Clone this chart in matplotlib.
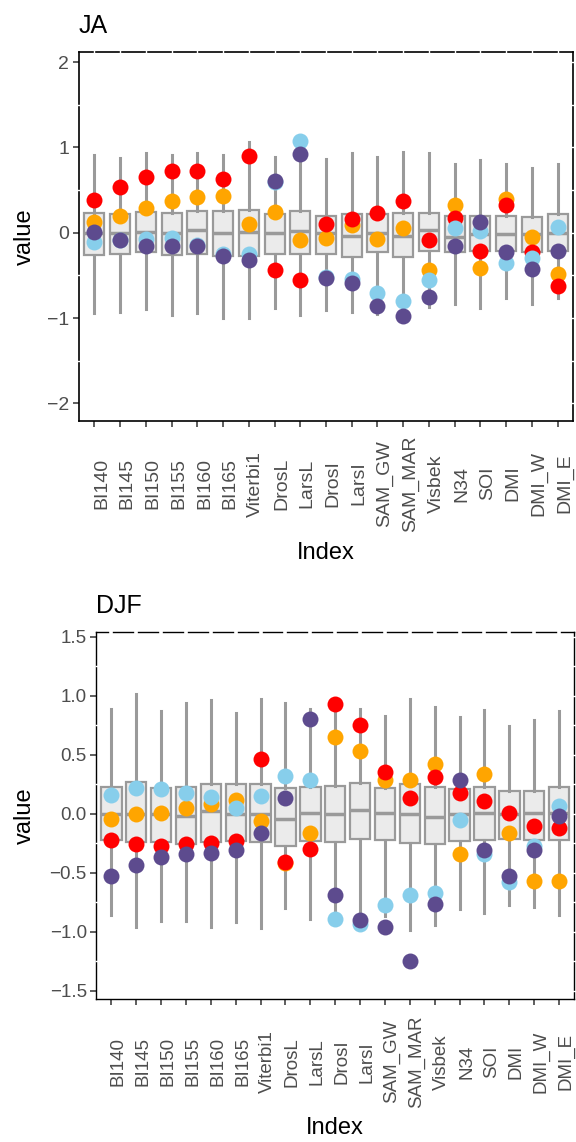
import numpy as np
import matplotlib
matplotlib.use("Agg")
from matplotlib import pyplot as plt
from matplotlib.transforms import ScaledTranslation

plt.rcParams['font.family'] = ['Liberation Sans', 'DejaVu Sans']

indices = ["BI140", "BI145", "BI150", "BI155", "BI160", "BI165", "Viterbi1",
           "DrosL", "LarsL", "DrosI", "LarsI", "SAM_GW", "SAM_MAR", "Visbek",
           "N34", "SOI", "DMI", "DMI_W", "DMI_E"]

# JA: box summaries
ja_wlo = [-0.94, -0.93, -0.89, -0.97, -0.94, -1.0, -1.0, -0.88, -0.96, -0.90,
          -0.93, -0.95, -0.99, -0.87, -0.83, -0.88, -0.76, -0.83, -0.77]
ja_q1 = [-0.26, -0.25, -0.23, -0.26, -0.25, -0.27, -0.27, -0.25, -0.25, -0.25,
         -0.29, -0.23, -0.29, -0.22, -0.23, -0.22, -0.22, -0.23, -0.21]
ja_med = [0.0, 0.0, 0.01, 0.0, 0.03, 0.0, 0.01, 0.0, 0.02, 0.0,
          -0.04, 0.0, -0.04, 0.03, -0.05, -0.02, -0.01, -0.01, 0.0]
ja_q3 = [0.23, 0.22, 0.24, 0.23, 0.25, 0.25, 0.27, 0.22, 0.25, 0.20,
         0.22, 0.22, 0.23, 0.23, 0.20, 0.20, 0.20, 0.18, 0.22]
ja_whi = [0.91, 0.88, 0.93, 0.91, 0.93, 0.91, 1.06, 0.89, 1.02, 0.86,
          0.94, 0.89, 0.95, 0.93, 0.80, 0.85, 0.81, 0.76, 0.81]
# JA: points
ja_red = [0.38, 0.54, 0.65, 0.72, 0.72, 0.63, 0.90, -0.44, -0.55, 0.10,
          0.16, 0.23, 0.37, -0.08, 0.17, -0.22, 0.32, -0.23, -0.63]
ja_orange = [0.13, 0.20, 0.29, 0.37, 0.42, 0.43, 0.10, 0.24, -0.08, -0.06,
             0.09, -0.07, 0.05, -0.44, 0.33, -0.41, 0.39, -0.05, -0.48]
ja_blue = [-0.11, -0.08, -0.07, -0.06, -0.14, -0.25, -0.25, 0.60, 1.07, -0.52,
           -0.54, -0.71, -0.80, -0.55, 0.05, 0.02, -0.36, -0.30, 0.07]
ja_purple = [0.01, -0.09, -0.15, -0.15, -0.16, -0.27, -0.32, 0.61, 0.92, -0.53,
             -0.59, -0.86, -0.98, -0.75, -0.15, 0.12, -0.23, -0.43, -0.22]

# DJF: box summaries
djf_wlo = [-0.86, -0.955, -0.91, -0.91, -0.955, -0.92, -0.97, -0.80, -0.89, -0.92,
           -0.90, -0.865, -0.98, -0.94, -0.81, -0.84, -0.77, -0.79, -0.86]
djf_q1 = [-0.22, -0.24, -0.24, -0.255, -0.24, -0.23, -0.24, -0.27, -0.23, -0.24,
          -0.21, -0.22, -0.25, -0.255, -0.23, -0.22, -0.21, -0.22, -0.22]
djf_med = [0.0, 0.0, 0.0, -0.02, 0.02, 0.0, 0.0, -0.04, 0.01, 0.0,
           0.03, 0.01, 0.0, -0.03, 0.0, 0.01, 0.0, 0.01, 0.01]
djf_q3 = [0.23, 0.27, 0.22, 0.23, 0.25, 0.25, 0.25, 0.22, 0.23, 0.235,
          0.26, 0.22, 0.25, 0.23, 0.21, 0.23, 0.19, 0.19, 0.23]
djf_whi = [0.89, 1.01, 0.87, 0.94, 0.96, 0.85, 0.97, 0.94, 0.89, 0.94,
           0.89, 0.83, 0.97, 0.90, 0.82, 0.88, 0.74, 0.79, 0.87]
# DJF: points
djf_red = [-0.22, -0.26, -0.27, -0.26, -0.25, -0.23, 0.46, -0.41, -0.30, 0.93,
           0.75, 0.35, 0.13, 0.31, 0.18, 0.11, 0.01, -0.10, -0.12]
djf_orange = [-0.04, 0.0, 0.01, 0.05, 0.08, 0.12, -0.06, -0.42, -0.16, 0.65,
              0.53, 0.29, 0.29, 0.42, -0.34, 0.34, -0.16, -0.57, -0.57]
djf_blue = [0.16, 0.22, 0.21, 0.18, 0.14, 0.05, 0.15, 0.32, 0.29, -0.89,
            -0.93, -0.77, -0.69, -0.67, -0.05, -0.34, -0.58, -0.27, 0.07]
djf_purple = [-0.53, -0.43, -0.37, -0.34, -0.33, -0.31, -0.16, 0.13, 0.80, -0.69,
              -0.90, -0.96, -1.25, -0.76, 0.29, -0.31, -0.53, -0.31, -0.02]

colors = {'orange': '#FFA500', 'red': '#FF0000', 'blue': '#87CEEB', 'purple': '#5D4B8E'}


def panel(ax, title, wlo, q1, med, q3, whi, pts, ylim, yticks, step, boxw,
          tick_fs, spine_w, gap_w, ylab_x, xlab_y):
    x = np.arange(len(indices))
    stats = [dict(whislo=a, q1=b, med=c, q3=d, whishi=e, fliers=[])
             for a, b, c, d, e in zip(wlo, q1, med, q3, whi)]
    ax.bxp(stats, positions=x, widths=boxw, patch_artist=True, showcaps=False,
           showfliers=False, manage_ticks=False,
           boxprops=dict(facecolor='#EBEBEB', edgecolor='#9A9A9A', linewidth=1.6),
           whiskerprops=dict(color='#9A9A9A', linewidth=2.2),
           medianprops=dict(color='#9A9A9A', linewidth=2.5))
    for key in ['orange', 'red', 'blue', 'purple']:
        ax.scatter(x, pts[key], s=132, color=colors[key], linewidths=0, zorder=3)

    ax.set_xlim(-0.6, len(indices) - 0.4)
    ax.set_ylim(*ylim)
    ax.set_yticks(yticks)
    ax.set_xticks(x)
    ax.set_xticklabels(indices, rotation=90, ha='center', va='center')
    ax.tick_params(axis='x', length=4, width=1.1, color='#333333', pad=41,
                   labelsize=tick_fs, labelcolor='#4D4D4D')
    ax.tick_params(axis='y', length=4, width=1.1, color='#333333', pad=3,
                   labelsize=tick_fs, labelcolor='#4D4D4D')
    off = ScaledTranslation(7 / 100, 0, ax.figure.dpi_scale_trans)
    for lab in ax.get_xticklabels():
        lab.set_transform(lab.get_transform() + off)

    for s in ax.spines.values():
        s.set_linewidth(spine_w)
        s.set_color('black')

    # white grid stubs breaking the panel border
    fine = np.arange(ylim[0] // step * step, ylim[1] + 1e-9, step)
    fine = fine[(fine > ylim[0]) & (fine < ylim[1])]
    ax.vlines(x, 0.994, 1.006, transform=ax.get_xaxis_transform(),
              colors='white', lw=gap_w, clip_on=False, zorder=5)
    ax.hlines(fine, 0.996, 1.004, transform=ax.get_yaxis_transform(),
              colors='white', lw=1.0, clip_on=False, zorder=5)
    minor = [v for v in fine if not np.any(np.isclose(v, yticks))]
    ax.hlines(minor, -0.004, 0.004, transform=ax.get_yaxis_transform(),
              colors='white', lw=1.0, clip_on=False, zorder=5)

    ax.set_title(title, loc='left', fontsize=18, pad=14)
    ax.set_xlabel('Index', fontsize=17, va='center')
    ax.xaxis.set_label_coords(0.5, xlab_y)
    ax.set_ylabel('value', fontsize=17, va='center')
    ax.yaxis.set_label_coords(ylab_x, 0.5)


fig = plt.figure(figsize=(5.76, 11.42), dpi=100)
ax1 = fig.add_axes([0.1372, 0.6313, 0.8576, 0.3231])
ax2 = fig.add_axes([0.1675, 0.1250, 0.8290, 0.3214])

panel(ax1, 'JA', ja_wlo, ja_q1, ja_med, ja_q3, ja_whi,
      {'red': ja_red, 'orange': ja_orange, 'blue': ja_blue, 'purple': ja_purple},
      (-2.207, 2.117), [-2, -1, 0, 1, 2], 0.5, 0.78, 14, 1.2, 1.0, -0.109, -0.358)
panel(ax2, 'DJF', djf_wlo, djf_q1, djf_med, djf_q3, djf_whi,
      {'red': djf_red, 'orange': djf_orange, 'blue': djf_blue, 'purple': djf_purple},
      (-1.570, 1.537), [-1.5, -1.0, -0.5, 0.0, 0.5, 1.0, 1.5], 0.25, 0.82, 13.5, 1.0, 2.6,
      -0.150, -0.351)

fig.savefig('out.png', dpi=100)
